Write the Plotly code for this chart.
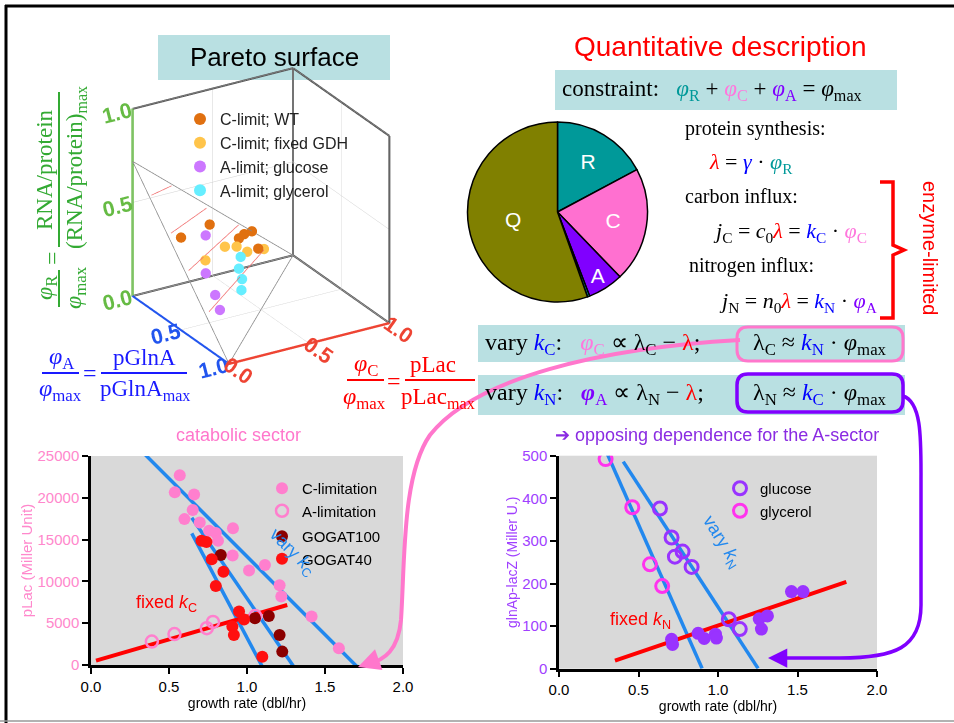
import plotly.graph_objects as go

W, H = 954, 723
SANS = "Liberation Sans"
SERIF = "Liberation Serif"

# ---------------- data: left panel (catabolic sector) ----------------
clim_x = [0.569, 0.537, 0.661, 0.652, 0.599, 0.697, 0.757, 0.80, 0.814, 0.910, 0.908, 1.013, 1.115, 1.209, 1.22, 1.414, 1.589]
clim_y = [22700, 20650, 20400, 18550, 17450, 17050, 16050, 15800, 14850, 16350, 13100, 11300, 11950, 9550, 8200, 5800, 2000]
alim_x = [0.39, 0.535, 0.742, 0.782, 1.053]
alim_y = [2800, 3700, 4400, 5150, 5850]
gogat100_x = [0.832, 1.051, 1.14, 1.209, 1.226]
gogat100_y = [13150, 5600, 5850, 3600, 1600]
gogat40_x = [0.708, 0.74, 0.774, 0.849, 0.80, 0.949, 0.981, 0.906, 0.916, 1.098]
gogat40_y = [14850, 14700, 12650, 11150, 9450, 6400, 5450, 4600, 3600, 1000]
varykc_x = [0.34, 1.716, None, 0.646, 1.307, None, 0.646, 1.104]
varykc_y = [25300, -400, None, 17620, -400, None, 15750, -400]
fixedkc_x = [0.032, 1.258]
fixedkc_y = [520, 7180]

# ---------------- data: right panel (A-sector) ----------------
gluc_x = [0.635, 0.708, 0.729, 0.777, 0.834, 1.068, 1.137]
gluc_y = [376, 308, 263, 275, 239, 116, 93]
glyc_x = [0.293, 0.461, 0.572, 0.649]
glyc_y = [492, 379, 245, 194]
nfill_x = [0.708, 0.714, 0.875, 0.913, 0.984, 0.99, 1.259, 1.311, 1.273, 1.462, 1.535]
nfill_y = [69, 57, 83, 71, 81, 72, 117, 124, 93, 181, 181]
varykn_x = [0.304, 0.90, None, 0.404, 1.252]
varykn_y = [504, 0.8, None, 486, 0.8]
fixedkn_x = [0.352, 1.807]
fixedkn_y = [19, 204]

# ---------------- data: pie ----------------
pie_labels = ["R", "C", "A", "", "Q"]
pie_values = [17.2, 20.6, 6.4, 0.4, 55.4]
pie_colors = ["#009999", "#ff70d0", "#8000ff", "#009999", "#808000"]

# ---------------- data: 3D Pareto surface (phi_A, phi_C, phi_R) ----------------
wt_A = [0.123, 0.327, 0.0, 0.050, 0.100, 0.094]
wt_C = [0.406, 0.105, 0.743, 0.665, 0.602, 0.726]
wt_R = [0.339, 0.409, 0.185, 0.205, 0.214, 0.130]
gdh_A = [0.073, 0.166, 0.214, 0.385, 0.158]
gdh_C = [0.774, 0.548, 0.446, 0.222, 0.619]
gdh_R = [0.110, 0.206, 0.245, 0.283, 0.160]
aglu_A = [0.213, 0.472, 0.583, 0.667]
aglu_C = [0.327, 0.172, 0.164, 0.143]
aglu_R = [0.331, 0.256, 0.182, 0.137]
agly_A = [0.220, 0.308, 0.367, 0.444]
agly_C = [0.541, 0.477, 0.461, 0.411]
agly_R = [0.172, 0.155, 0.124, 0.104]
simplex_A = [1, 0, 0, 1]
simplex_C = [0, 1, 0, 0]
simplex_R = [0, 0, 0.72, 0]
seg_A = [0.156, 0.008, None, 0.337, 0.022, None, 0.527, 0.007, None, 0.725, 0.027]
seg_C = [0.024, 0.238, None, 0.038, 0.447, None, 0.033, 0.657, None, 0.041, 0.828]
seg_R = [0.59, 0.54, None, 0.45, 0.38, None, 0.32, 0.24, None, 0.17, 0.10]
cube = [0, 1]
tick3 = [0, 0.5, 1]
tick3_text = ["0.0", "0.5", "1.0"]

PINK = "#ff7fce"
BLUE_L = "#2288ee"
PURPLE = "#9933ff"


def X(px):
    return px / W


def Y(py):
    return 1 - py / H


fig = go.Figure()

# ---- left panel traces ----
fig.add_trace(go.Scatter(x=varykc_x, y=varykc_y, mode="lines", line=dict(color=BLUE_L, width=3.5),
                         showlegend=False, xaxis="x", yaxis="y", hoverinfo="skip"))
fig.add_trace(go.Scatter(x=fixedkc_x, y=fixedkc_y, mode="lines", line=dict(color="#ff0000", width=4),
                         showlegend=False, xaxis="x", yaxis="y", hoverinfo="skip"))
fig.add_trace(go.Scatter(x=clim_x, y=clim_y, mode="markers", name="C-limitation",
                         marker=dict(color=PINK, size=12), xaxis="x", yaxis="y",
                         legend="legend2", legendgroup="g1"))
fig.add_trace(go.Scatter(x=alim_x, y=alim_y, mode="markers", name="A-limitation",
                         marker=dict(color="rgba(0,0,0,0)", size=12, line=dict(color=PINK, width=2.5)),
                         xaxis="x", yaxis="y", legend="legend2", legendgroup="g1"))
fig.add_trace(go.Scatter(x=gogat100_x, y=gogat100_y, mode="markers", name="GOGAT100",
                         marker=dict(color="#8b0000", size=12), xaxis="x", yaxis="y",
                         legend="legend2", legendgroup="g2"))
fig.add_trace(go.Scatter(x=gogat40_x, y=gogat40_y, mode="markers", name="GOGAT40",
                         marker=dict(color="#ff1010", size=12), xaxis="x", yaxis="y",
                         legend="legend2", legendgroup="g2"))

# ---- right panel traces ----
fig.add_trace(go.Scatter(x=varykn_x, y=varykn_y, mode="lines", line=dict(color=BLUE_L, width=3.5),
                         showlegend=False, xaxis="x2", yaxis="y2", hoverinfo="skip"))
fig.add_trace(go.Scatter(x=fixedkn_x, y=fixedkn_y, mode="lines", line=dict(color="#ff0000", width=4),
                         showlegend=False, xaxis="x2", yaxis="y2", hoverinfo="skip"))
fig.add_trace(go.Scatter(x=nfill_x, y=nfill_y, mode="markers", showlegend=False,
                         marker=dict(color=PURPLE, size=13), xaxis="x2", yaxis="y2"))
fig.add_trace(go.Scatter(x=gluc_x, y=gluc_y, mode="markers", name="glucose",
                         marker=dict(color="rgba(0,0,0,0)", size=13, line=dict(color=PURPLE, width=3)),
                         xaxis="x2", yaxis="y2", legend="legend3"))
fig.add_trace(go.Scatter(x=glyc_x, y=glyc_y, mode="markers", name="glycerol",
                         marker=dict(color="rgba(0,0,0,0)", size=13, line=dict(color="#ff33ee", width=3)),
                         xaxis="x2", yaxis="y2", legend="legend3"))

# ---- pie ----
fig.add_trace(go.Pie(labels=pie_labels, values=pie_values, sort=False, direction="clockwise", rotation=0,
                     marker=dict(colors=pie_colors, line=dict(color="#000000", width=1.5)),
                     text=pie_labels, textinfo="text", textposition="inside",
                     insidetextorientation="horizontal",
                     textfont=dict(color="white", size=21, family=SANS),
                     domain=dict(x=[X(465), X(650)], y=[Y(302), Y(122)]),
                     showlegend=False, hoverinfo="skip"))

# ---- 3D ----
lo, hi = cube
edges = [((lo, lo, lo), (lo, hi, lo)), ((lo, hi, lo), (lo, hi, hi)), ((lo, hi, lo), (hi, hi, lo)),
         ((hi, hi, lo), (hi, hi, hi)), ((lo, lo, hi), (lo, hi, hi)), ((lo, hi, hi), (hi, hi, hi))]
ex, ey, ez = [], [], []
for a, b in edges:
    ex += [a[0], b[0], None]
    ey += [a[1], b[1], None]
    ez += [a[2], b[2], None]
fig.add_trace(go.Scatter3d(x=ex, y=ey, z=ez, mode="lines", line=dict(color="#555555", width=4),
                           showlegend=False, hoverinfo="skip", scene="scene"))
fig.add_trace(go.Scatter3d(x=simplex_A, y=simplex_C, z=simplex_R, mode="lines",
                           line=dict(color="#888888", width=1.5), showlegend=False, hoverinfo="skip", scene="scene"))
fig.add_trace(go.Scatter3d(x=seg_A, y=seg_C, z=seg_R, mode="lines",
                           line=dict(color="#f07070", width=1.5), showlegend=False, hoverinfo="skip", scene="scene"))
for nm, a, c, r, col in [("C-limit; WT", wt_A, wt_C, wt_R, "#e07010"),
                         ("C-limit; fixed GDH", gdh_A, gdh_C, gdh_R, "#ffc44a"),
                         ("A-limit; glucose", aglu_A, aglu_C, aglu_R, "#cc77ff"),
                         ("A-limit; glycerol", agly_A, agly_C, agly_R, "#66eeff")]:
    fig.add_trace(go.Scatter3d(x=a, y=c, z=r, mode="markers", name=nm,
                               marker=dict(color=col, size=6, line=dict(width=0)),
                               scene="scene", legend="legend"))


def ax3(col):
    return dict(range=[0, 1], tickvals=tick3, ticktext=tick3_text, showbackground=False,
                gridcolor="#d0d0d0", gridwidth=1, zeroline=False, showline=True, linewidth=5,
                linecolor=col, showspikes=False, title=dict(text=""),
                tickfont=dict(color=col, size=16, family=SANS, weight="bold"))


axis_common = dict(showline=True, linecolor="black", linewidth=2.5, ticks="outside", ticklen=6,
                   tickwidth=2, tickcolor="black", showgrid=False, zeroline=False, automargin=False)

fig.update_layout(
    width=W, height=H, margin=dict(l=0, r=0, t=0, b=0, autoexpand=False), paper_bgcolor="white",
    xaxis=dict(domain=[X(91), X(403)], anchor="y", range=[0, 2], tickvals=[0, 0.5, 1, 1.5, 2],
               tickformat=".1f", tickfont=dict(size=15, family=SANS, color="black"),
               title=dict(text="growth rate (dbl/hr)", font=dict(size=14, family=SANS, color="black"), standoff=2),
               **axis_common),
    yaxis=dict(domain=[Y(665), Y(456)], anchor="x", range=[0, 25000], tickvals=[0, 5000, 10000, 15000, 20000, 25000],
               tickformat="d", tickfont=dict(size=15, family=SANS, color="#ff88cc"),
               title=dict(text="pLac (Miller Unit)", font=dict(size=15, family=SANS, color="#ff88cc"), standoff=2),
               **axis_common),
    xaxis2=dict(domain=[X(559), X(877)], anchor="y2", range=[0, 2], tickvals=[0, 0.5, 1, 1.5, 2],
                tickformat=".1f", tickfont=dict(size=15, family=SANS, color="black"),
                title=dict(text="growth rate (dbl/hr)", font=dict(size=14, family=SANS, color="black"), standoff=2),
                **axis_common),
    yaxis2=dict(domain=[Y(668.7), Y(455.7)], anchor="x2", range=[0, 500], tickvals=[0, 100, 200, 300, 400, 500],
                tickfont=dict(size=15, family=SANS, color="#a040ff"),
                title=dict(text="glnAp-lacZ (Miller U.)", font=dict(size=14, family=SANS, color="#a040ff"), standoff=2),
                **axis_common),
    plot_bgcolor="#d9d9d9",
    scene=dict(domain=dict(x=[X(61), X(461)], y=[Y(401), Y(31)]),
               xaxis=ax3("#2255ee"), yaxis=ax3("#ee4433"), zaxis=ax3("#66bb44"),
               camera=dict(eye=dict(x=1.375, y=-0.826, z=0.748), up=dict(x=0, y=0, z=1),
                           center=dict(x=0, y=0, z=0), projection=dict(type="orthographic")),
               aspectmode="manual", aspectratio=dict(x=1.012, y=1.012, z=1.116), bgcolor="rgba(0,0,0,0)"),
    legend=dict(x=X(180), y=Y(102), xanchor="left", yanchor="top", bgcolor="rgba(0,0,0,0)",
                font=dict(size=16, family=SANS, color="#222222"), itemsizing="constant", tracegroupgap=0),
    legend2=dict(x=X(262), y=Y(472), xanchor="left", yanchor="top", bgcolor="rgba(0,0,0,0)",
                 font=dict(size=15, family=SANS, color="black"), tracegroupgap=3),
    legend3=dict(x=X(720), y=Y(472), xanchor="left", yanchor="top", bgcolor="rgba(0,0,0,0)",
                 font=dict(size=15, family=SANS, color="black")),
)


def path(cmds):
    out = ""
    for p in cmds:
        cmd = p[0]
        coords = p[1:]
        s = " ".join(f"{X(coords[i]):.5f},{Y(coords[i + 1]):.5f}" for i in range(0, len(coords), 2))
        out += f"{cmd} {s} "
    return out


def rrect(x0, y0, x1, y1, r):
    return path([("M", x0 + r, y0), ("L", x1 - r, y0), ("Q", x1, y0, x1, y0 + r), ("L", x1, y1 - r),
                 ("Q", x1, y1, x1 - r, y1), ("L", x0 + r, y1), ("Q", x0, y1, x0, y1 - r), ("L", x0, y0 + r),
                 ("Q", x0, y0, x0 + r, y0)]) + "Z"


TEAL_BG = "#b9e0e2"
shapes = []
for (x0, y0, x1, y1) in [(158, 35, 390, 80), (555, 70, 897, 110), (478, 325, 905, 362), (478, 375, 905, 415)]:
    shapes.append(dict(type="rect", xref="paper", yref="paper", x0=X(x0), x1=X(x1), y0=Y(y1), y1=Y(y0),
                       fillcolor=TEAL_BG, line=dict(width=0), layer="below"))
shapes.append(dict(type="path", xref="paper", yref="paper", path=rrect(737, 327, 903, 361, 11),
                   line=dict(color="#ff77cc", width=3)))
shapes.append(dict(type="path", xref="paper", yref="paper", path=rrect(737, 374, 903, 412, 11),
                   line=dict(color="#8000ff", width=3.5)))
# frame
shapes.append(dict(type="line", xref="paper", yref="paper", x0=X(5), x1=1, y0=Y(6), y1=Y(6),
                   line=dict(color="black", width=3)))
shapes.append(dict(type="line", xref="paper", yref="paper", x0=X(6), x1=X(6), y0=Y(5), y1=0,
                   line=dict(color="black", width=3)))
shapes.append(dict(type="line", xref="paper", yref="paper", x0=X(0), x1=1, y0=Y(721), y1=Y(721),
                   line=dict(color="#999999", width=1.5)))
# red bracket
shapes.append(dict(type="path", xref="paper", yref="paper",
                   path=path([("M", 880, 182), ("L", 893, 182), ("L", 893, 245), ("L", 904, 250),
                              ("L", 893, 255), ("L", 893, 318), ("L", 880, 318)]),
                   line=dict(color="#ff0000", width=3.5)))
# fraction bars
GR = "#33aa33"
BLF = "#1a1aff"
RD = "#ff0000"
for (x0, y0, x1, y1, col) in [(59, 307, 59, 270, GR), (59, 247, 59, 92, GR), (42, 373, 79, 373, BLF),
                              (101, 373, 187, 373, BLF), (347, 380, 384, 380, RD), (405, 380, 475, 380, RD)]:
    shapes.append(dict(type="line", xref="paper", yref="paper", x0=X(x0), x1=X(x1), y0=Y(y0), y1=Y(y1),
                       line=dict(color=col, width=2)))
# curved arrows
shapes.append(dict(type="path", xref="paper", yref="paper",
                   path=path([("M", 740, 340), ("C", 600, 348, 475, 378, 430, 435),
                              ("C", 402, 475, 405, 560, 401, 620), ("C", 398, 650, 385, 660, 368, 664)]),
                   line=dict(color="#ff77cc", width=4)))
shapes.append(dict(type="path", xref="paper", yref="paper",
                   path=path([("M", 903, 396), ("C", 922, 402, 921, 440, 921, 480), ("L", 921, 605),
                              ("C", 921, 648, 895, 658, 840, 658), ("L", 780, 658)]),
                   line=dict(color="#8000ff", width=3.5)))

ann = []


def A(px, py, text, size=20, color="black", family=SERIF, xanchor="center", angle=0, **kw):
    ann.append(dict(x=X(px), y=Y(py), xref="paper", yref="paper", text=text, showarrow=False,
                    font=dict(size=size, color=color, family=family), xanchor=xanchor, yanchor="middle",
                    textangle=angle, **kw))


def c(col, t):
    return f"<span style='color:{col}'>{t}</span>"


TEAL = "#009999"
PK = "#ff77dd"
PU = "#8000ff"
BL = "#0000ff"
phi = "<i>φ</i>"

A(274, 57, "Pareto surface", size=26, family=SANS)
A(720, 47, "Quantitative description", size=28, color=RD, family=SANS)
A(560, 90, "constraint:   " + c(TEAL, phi + "<sub>R</sub>") + " + " + c(PK, phi + "<sub>C</sub>") + " + "
  + c(PU, phi + "<sub>A</sub>") + " = " + phi + "<sub>max</sub>", size=23, xanchor="left")
A(683, 128, "protein synthesis:", size=20, xanchor="left")
A(707, 163, c(RD, "<i>λ</i>") + " = " + c(BL, "<i>γ</i>") + " · " + c(TEAL, phi + "<sub>R</sub>"),
  size=22, xanchor="left")
A(683, 196, "carbon influx:", size=20, xanchor="left")
A(711, 232, "<i>j</i><sub>C</sub> = <i>c</i><sub>0</sub>" + c(RD, "<i>λ</i>") + " = " + c(BL, "<i>k</i><sub>C</sub>")
  + " · " + c(PK, phi + "<sub>C</sub>"), size=22, xanchor="left")
A(687, 265, "nitrogen influx:", size=20, xanchor="left")
A(717, 302, "<i>j</i><sub>N</sub> = <i>n</i><sub>0</sub>" + c(RD, "<i>λ</i>") + " = " + c(BL, "<i>k</i><sub>N</sub>")
  + " · " + c(PU, phi + "<sub>A</sub>"), size=22, xanchor="left")
A(930, 248, "enzyme-limited", size=20, color=RD, family=SANS, angle=90)

A(483, 344, "vary " + c(BL, "<i>k</i><sub>C</sub>") + ":   " + c(PK, phi + "<sub>C</sub>") + " ∝ λ<sub>C</sub> − "
  + c(RD, "λ") + ";", size=24, xanchor="left")
A(820, 344, "λ<sub>C</sub> ≈ " + c(BL, "<i>k</i><sub>N</sub>") + " · " + phi + "<sub>max</sub>", size=24)
A(483, 394, "vary " + c(BL, "<i>k</i><sub>N</sub>") + ":   " + c(PU, "<b>" + phi + "</b><sub>A</sub>") + " ∝ λ<sub>N</sub> − "
  + c(RD, "λ") + ";", size=24, xanchor="left")
A(820, 394, "λ<sub>N</sub> ≈ " + c(BL, "<i>k</i><sub>C</sub>") + " · " + phi + "<sub>max</sub>", size=24)

# fractions
A(46, 288, phi + "<sub>R</sub>", size=24, color=GR, angle=-90)
A(52, 258, "=", size=24, color=GR, angle=-90)
A(75, 288, phi + "<sub>max</sub>", size=24, color=GR, angle=-90)
A(44, 170, "RNA/protein", size=23, color=GR, angle=-90)
A(76, 168, "(RNA/protein)<sub>max</sub>", size=23, color=GR, angle=-90)
A(62, 358, phi + "<sub>A</sub>", size=24, color=BLF)
A(60, 390, phi + "<sub>max</sub>", size=24, color=BLF)
A(90, 373, "=", size=24, color=BLF)
A(144, 357, "pGlnA", size=23, color=BLF)
A(145, 390, "pGlnA<sub>max</sub>", size=23, color=BLF)
A(366, 365, phi + "<sub>C</sub>", size=24, color=RD)
A(364, 398, phi + "<sub>max</sub>", size=24, color=RD)
A(394, 381, "=", size=24, color=RD)
A(433, 364, "pLac", size=23, color=RD)
A(438, 398, "pLac<sub>max</sub>", size=23, color=RD)

# panel titles
A(238, 435, "catabolic sector", size=18, color="#ff77cc", family=SANS)
A(717, 435, "➔ opposing dependence for the A-sector", size=18, color="#8a2be2", family=SANS)

# in-plot labels
ann.append(dict(x=0.487, y=7400, xref="x", yref="y", text="fixed <i>k</i><sub>C</sub>", showarrow=False,
                font=dict(size=18, color=RD, family=SANS)))
ann.append(dict(x=1.29, y=13500, xref="x", yref="y", text="vary <i>k</i><sub>C</sub>", showarrow=False,
                textangle=45, font=dict(size=18, color=BLUE_L, family=SANS)))
ann.append(dict(x=0.51, y=114, xref="x2", yref="y2", text="fixed <i>k</i><sub>N</sub>", showarrow=False,
                font=dict(size=18, color=RD, family=SANS)))
ann.append(dict(x=1.025, y=297, xref="x2", yref="y2", text="vary <i>k</i><sub>N</sub>", showarrow=False,
                textangle=58, font=dict(size=18, color=BLUE_L, family=SANS)))

# arrow heads
ann.append(dict(x=X(358), y=Y(667), xref="paper", yref="paper", text="", showarrow=True, arrowhead=2,
                arrowsize=1.1, arrowwidth=4, arrowcolor="#ff77cc", ax=14, ay=-5))
ann.append(dict(x=X(768), y=Y(658), xref="paper", yref="paper", text="", showarrow=True, arrowhead=2,
                arrowsize=1.1, arrowwidth=3.5, arrowcolor="#8000ff", ax=16, ay=0))

fig.update_layout(shapes=shapes, annotations=ann)
fig.write_html("out.html", config={"displayModeBar": False},
               post_script="document.body.style.margin='0px';")
